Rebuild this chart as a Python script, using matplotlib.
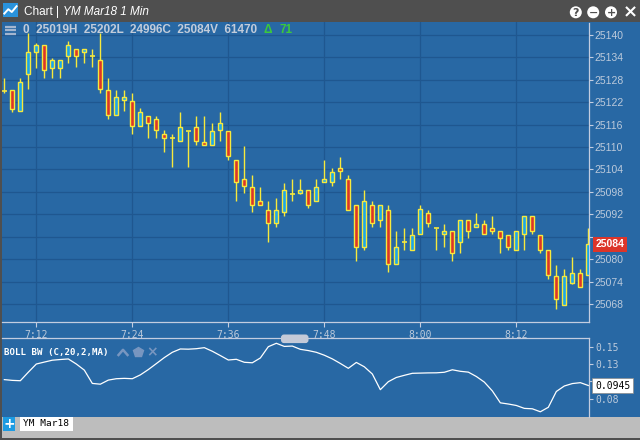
import matplotlib
matplotlib.use("Agg")
import matplotlib.pyplot as plt
from matplotlib.patches import Rectangle, FancyBboxPatch, Circle
from matplotlib.transforms import blended_transform_factory

# one-minute candles of YM Mar18, 7:08 .. 8:21
opens = [25125.1, 25125.2, 25119.6, 25129.5, 25135.4, 25137.3, 25131.2, 25131.2, 25134.3, 25136.2,
         25135.4, 25134.3, 25133.2, 25125.2, 25118.5, 25122.5, 25122.3, 25115.6, 25118.2, 25117.4,
         25113.4, 25112.3, 25111.5, 25114.2, 25115.3, 25111.3, 25110.5, 25114.5, 25114.2, 25106.5,
         25101.4, 25099.2, 25095.5, 25093.3, 25089.6, 25092.5, 25097.4, 25097.6, 25098.4, 25095.5,
         25100.6, 25100.6, 25104.3, 25101.4, 25094.4, 25083.4, 25094.4, 25090.4, 25093.3, 25078.6,
         25084.5, 25082.6, 25086.7, 25092.3, 25088.3, 25086.7, 25087.5, 25084.5, 25090.4, 25088.5,
         25089.3, 25088.3, 25087.5, 25086.4, 25082.6, 25086.7, 25091.5, 25086.4, 25082.4, 25075.4,
         25067.7, 25073.6, 25076.4, 25075.7]
highs = [25128.4, 25125.2, 25128.4, 25140.5, 25137.9, 25137.3, 25133.9, 25133.4, 25138.3, 25136.2,
         25136.2, 25136.2, 25140.5, 25128.4, 25125.2, 25125.2, 25124.4, 25120.4, 25118.2, 25118.2,
         25114.5, 25113.4, 25119.3, 25114.2, 25118.2, 25118.2, 25116.4, 25119.3, 25114.2, 25106.5,
         25110.2, 25102.4, 25099.2, 25095.5, 25096.3, 25100.3, 25101.4, 25101.4, 25098.4, 25101.4,
         25106.5, 25104.3, 25107.3, 25102.4, 25094.4, 25098.4, 25095.5, 25094.4, 25094.4, 25087.5,
         25088.3, 25088.3, 25094.4, 25093.3, 25088.3, 25089.3, 25087.5, 25090.4, 25090.4, 25092.3,
         25090.4, 25091.5, 25087.5, 25086.4, 25087.5, 25091.5, 25091.5, 25086.4, 25082.4, 25078.4,
         25077.3, 25080.5, 25077.4, 25088.3]
lows = [25124.4, 25119.5, 25119.6, 25125.5, 25131.2, 25128.4, 25128.4, 25128.4, 25132.4, 25131.4,
        25132.4, 25131.4, 25124.4, 25117.4, 25118.5, 25119.6, 25113.4, 25115.6, 25112.3, 25112.3,
        25108.6, 25104.6, 25111.5, 25104.6, 25110.5, 25110.5, 25110.5, 25111.5, 25106.5, 25095.5,
        25097.6, 25092.5, 25094.4, 25084.5, 25088.5, 25091.5, 25095.5, 25097.4, 25093.6, 25095.5,
        25100.6, 25099.5, 25101.4, 25093.3, 25079.4, 25082.6, 25088.5, 25088.5, 25076.5, 25078.6,
        25082.6, 25082.6, 25086.7, 25088.5, 25082.6, 25083.4, 25079.4, 25081.6, 25085.6, 25088.5,
        25086.7, 25086.7, 25081.6, 25082.6, 25082.6, 25082.6, 25086.7, 25081.6, 25074.6, 25066.6,
        25067.7, 25073.5, 25072.5, 25075.7]
closes = [25125.1, 25120.3, 25127.3, 25135.4, 25137.2, 25130.6, 25133.2, 25133.2, 25137.3, 25134.3,
          25136.2, 25134.3, 25125.5, 25118.5, 25123.3, 25123.3, 25115.6, 25119.3, 25116.4, 25114.5,
          25112.3, 25112.3, 25115.3, 25114.2, 25111.5, 25110.5, 25114.2, 25116.4, 25107.5, 25100.6,
          25099.5, 25094.4, 25094.4, 25089.6, 25093.3, 25098.4, 25097.4, 25098.4, 25094.4, 25099.2,
          25101.4, 25103.3, 25103.5, 25093.3, 25083.4, 25095.5, 25089.6, 25094.4, 25078.6, 25083.4,
          25084.5, 25086.4, 25093.3, 25089.6, 25088.3, 25087.5, 25081.6, 25090.4, 25087.5, 25089.3,
          25086.7, 25087.5, 25085.6, 25083.4, 25087.5, 25091.5, 25087.5, 25082.6, 25075.7, 25069.5,
          25075.4, 25076.4, 25072.6, 25084.0]

# Bollinger band width (C,20,2,MA), one value per candle
boll_bw = [0.1030, 0.1019, 0.1014, 0.1137, 0.1255, 0.1283, 0.1310, 0.1320, 0.1328, 0.1255,
           0.1167, 0.0975, 0.0964, 0.1023, 0.1043, 0.1048, 0.1043, 0.1098, 0.1175, 0.1261,
           0.1348, 0.1424, 0.1472, 0.1469, 0.1476, 0.1491, 0.1439, 0.1377, 0.1313, 0.1323,
           0.1280, 0.1273, 0.1342, 0.1505, 0.1554, 0.1509, 0.1514, 0.1467, 0.1449, 0.1424,
           0.1382, 0.1329, 0.1263, 0.1193, 0.1278, 0.1215, 0.1111, 0.0885, 0.1000, 0.1061,
           0.1092, 0.1121, 0.1124, 0.1127, 0.1128, 0.1136, 0.1172, 0.1150, 0.1138, 0.1075,
           0.0994, 0.0867, 0.0695, 0.0678, 0.0657, 0.0615, 0.0609, 0.0566, 0.0631, 0.0859,
           0.0938, 0.0973, 0.0986, 0.0945]

time_ticks = [4, 16, 28, 40, 52, 64]
time_labels = ["7:12", "7:24", "7:36", "7:48", "8:00", "8:12"]
price_ticks = list(range(25068, 25141, 6))
bw_ticks = [0.1505, 0.1255, 0.1005, 0.0755]
bw_tick_labels = ["0.15", "0.13", "0.10", "0.08"]
header_text = "0  25019H  25202L  24996C  25084V  61470"
header_change = "71"

W, H = 640, 440
BG = "#2868a4"
GRID = "#1f5790"
AXC = "#c3cde0"
TXT = "#bccadb"
YELLOW = "#f7e93c"
RED = "#dc3529"
BLUE = "#1ba6ea"
ICON = "#7896c0"
GREEN = "#3cc83c"
SANS = "Liberation Sans"
MONO = "DejaVu Sans Mono"

fig = plt.figure(figsize=(6.4, 4.4), dpi=100, facecolor="#4f4f4f")


def px_axes(x0, y0, x1, y1, **kw):
    # pixel box measured from the top-left corner
    return fig.add_axes([x0 / W, 1 - y1 / H, (x1 - x0) / W, (y1 - y0) / H], **kw)


# background panels
bg = px_axes(0, 0, W, H, zorder=-5)
bg.set_xlim(0, W)
bg.set_ylim(H, 0)
bg.axis("off")
bg.add_patch(Rectangle((2, 22.5), W - 2, 394.2, color=BG, lw=0))
bg.add_patch(Rectangle((2, 416.7), W - 2, 21.6, color="#bdbdbd", lw=0))

xs = list(range(len(closes)))
XLIM = (-0.29, 73.12)

# price chart
ax = px_axes(2, 22.5, 589.3, 321.7)
ax.patch.set_alpha(0)
ax.vlines(xs, lows, highs, color=YELLOW, lw=1, zorder=2)
for x, o, c in zip(xs, opens, closes):
    if abs(c - o) < 0.3:
        ax.hlines(c, x - 0.3, x + 0.3, color=YELLOW, lw=1.2, zorder=3)
    else:
        ax.bar(x, abs(c - o), bottom=min(o, c), width=0.5,
               color=BLUE if c > o else RED, edgecolor=YELLOW, linewidth=1, zorder=3)
ax.set_xlim(*XLIM)
ax.set_ylim(25063.3, 25143.3)
ax.yaxis.tick_right()
# the label that sits under the last-price box is covered in the original
price_labels = ["" if abs(p - closes[-1]) < 4 else str(p) for p in price_ticks]
ax.set_yticks(price_ticks, price_labels)
ax.set_xticks(time_ticks, time_labels)
ax.tick_params(axis="y", colors=AXC, labelcolor=TXT, length=3, width=0.8, pad=1, labelsize=7.5)
ax.tick_params(axis="x", colors=AXC, labelcolor=TXT, length=3.5, width=0.8, pad=2.5, labelsize=7)
for lab in ax.get_yticklabels():
    lab.set_fontfamily(SANS)
for lab in ax.get_xticklabels():
    lab.set_fontfamily(MONO)
ax.grid(True, color=GRID, lw=0.9)
ax.set_axisbelow(True)
for s in ["top", "left"]:
    ax.spines[s].set_visible(False)
for s in ["right", "bottom"]:
    ax.spines[s].set_color(AXC)
    ax.spines[s].set_linewidth(0.9)
tr = blended_transform_factory(ax.transAxes, ax.transData)
ax.text(1.0105, closes[-1], f"{closes[-1]:.0f}", transform=tr, ha="left", va="center",
        color="white", fontsize=7.5, fontweight="bold", family=SANS, clip_on=False, zorder=6,
        bbox=dict(boxstyle="square,pad=0.25", fc=RED, ec="none"))

# indicator panel
ax2 = px_axes(2, 338.3, 589.3, 416.7)
ax2.patch.set_alpha(0)
ax2.plot(xs, boll_bw, color="white", lw=0.9)
ax2.set_xlim(*XLIM)
ax2.set_ylim(0.0495, 0.1626)
ax2.yaxis.tick_right()
bw_labels = ["" if abs(t - boll_bw[-1]) < 0.01 else s for t, s in zip(bw_ticks, bw_tick_labels)]
ax2.set_yticks(bw_ticks, bw_labels)
ax2.set_xticks([])
ax2.tick_params(axis="y", colors=AXC, labelcolor=TXT, length=3, width=0.8, pad=1.5, labelsize=7)
for lab in ax2.get_yticklabels():
    lab.set_fontfamily(MONO)
for s in ["bottom", "left"]:
    ax2.spines[s].set_visible(False)
for s in ["right", "top"]:
    ax2.spines[s].set_color(AXC)
    ax2.spines[s].set_linewidth(0.9)
tr2 = blended_transform_factory(ax2.transAxes, ax2.transData)
ax2.text(1.0100, boll_bw[-1], f"{boll_bw[-1]:.4f}", transform=tr2, ha="left", va="center",
         color="black", fontsize=7, family=MONO, clip_on=False, zorder=6,
         bbox=dict(boxstyle="square,pad=0.3", fc="white", ec="#8a8a8a", lw=0.5))

# chrome on top
ov = px_axes(0, 0, W, H, zorder=10)
ov.set_xlim(0, W)
ov.set_ylim(H, 0)
ov.axis("off")

# title bar
ov.add_patch(Rectangle((2.7, 2.7), 15.6, 14.6, fc="#2a93dc", ec="none"))
ov.plot([4.3, 8.3, 11.8, 16.6], [13.6, 9.2, 12.0, 6.2], color="white", lw=1.4)
ov.text(24, 12, "Chart |", color="white", fontsize=8.5, family=SANS, va="center")
ov.text(63, 12, "YM Mar18 1 Min", color="white", fontsize=8.5, family=SANS,
        style="italic", va="center")
for cx, sym in [(575.8, "?"), (593.2, "\u2212"), (611.0, "+")]:
    ov.add_patch(Circle((cx, 12.3), 6, fc="white", ec="none"))
    ov.text(cx, 12.6, sym, color="#4f4f4f", fontsize=8, fontweight="bold", family="DejaVu Sans",
            ha="center", va="center")
ov.text(630, 12.6, "\u00d7", color="white", fontsize=13, fontweight="bold", family="DejaVu Sans",
        ha="center", va="center")

# header row inside the price chart
for yy in [27, 30.5, 34]:
    ov.plot([4.5, 15.5], [yy, yy], color="#a3b6d0", lw=1.6, solid_capstyle="butt")
ov.text(23, 30.3, header_text, color="#c2ccda", fontsize=8.5, fontweight="bold",
        family=SANS, va="center")
ov.text(263.5, 30.3, "\u0394", color=GREEN, fontsize=8.5, fontweight="bold", family=SANS,
        va="center")
ov.text(279, 30.3, header_change, color=GREEN, fontsize=8.5, fontweight="bold", family=SANS,
        va="center")

# indicator header
ov.text(4, 352, "BOLL BW (C,20,2,MA)", color="white", fontsize=6.6, fontweight="bold",
        family=MONO, va="center")
ov.plot([118.5, 123, 127.5], [355, 349.8, 355], color=ICON, lw=1.8)
ov.plot([137.5], [352.3], marker="p", ms=7.5, color=ICON, mec=ICON)
ov.text(152.5, 352.3, "\u00d7", color=ICON, fontsize=10, fontweight="bold", family="DejaVu Sans",
        ha="center", va="center")

# panel splitter handle
ov.add_patch(FancyBboxPatch((281, 334.5), 27.5, 8.6, boxstyle="round,pad=0,rounding_size=3",
                            fc="#c4cad8", ec="none"))

# bottom tab bar
ov.add_patch(Rectangle((2.7, 417.3), 12.3, 13.3, fc="#1d9be2", ec="none"))
ov.text(8.85, 423.9, "+", color="white", fontsize=10, fontweight="bold", family="DejaVu Sans",
        ha="center", va="center")
ov.add_patch(Rectangle((20, 417.3), 52.7, 13.4, fc="white", ec="none"))
ov.text(23, 424, "YM Mar18", color="black", fontsize=6.8, family=MONO, va="center")

fig.savefig("out.png", dpi=100, facecolor=fig.get_facecolor())
